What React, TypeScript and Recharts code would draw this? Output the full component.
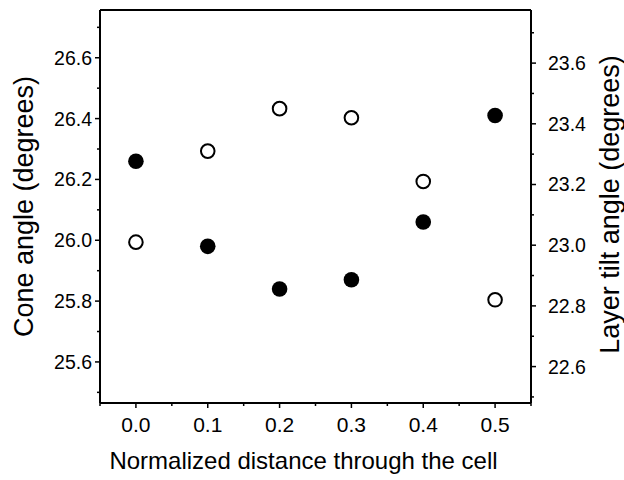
import { ScatterChart, Scatter, XAxis, YAxis, ReferenceLine } from "recharts";

// normalized distance through the cell
const positions = [0, 0.1, 0.2, 0.3, 0.4, 0.5];
// filled circles, left axis
const coneAngle = [26.26, 25.98, 25.84, 25.87, 26.06, 26.41];
// open circles, right axis
const layerTilt = [23.01, 23.31, 23.45, 23.42, 23.21, 22.82];

const xTicks = [-0.05, 0, 0.05, 0.1, 0.15, 0.2, 0.25, 0.3, 0.35, 0.4, 0.45, 0.5, 0.55];
const leftTicks = [25.5, 25.6, 25.7, 25.8, 25.9, 26.0, 26.1, 26.2, 26.3, 26.4, 26.5, 26.6, 26.7];
const rightTicks = [22.5, 22.6, 22.7, 22.8, 22.9, 23.0, 23.1, 23.2, 23.3, 23.4, 23.5, 23.6, 23.7];

const coneData = positions.map((x, i) => ({ x, y: coneAngle[i] }));
const tiltData = positions.map((x, i) => ({ x, y: layerTilt[i] }));

const LEFT_DOMAIN = [25.465, 26.757];
const RIGHT_DOMAIN = [22.48, 23.775];
const X_DOMAIN = [-0.05, 0.55];

const FONT = "Arial, 'Liberation Sans', sans-serif";

const isTenth = (v: number) => Math.abs(v * 10 - Math.round(v * 10)) < 1e-6;
const isEvenTenth = (v: number) => Math.round(v * 10) % 2 === 0;

function XTick(props: any) {
  const { x, y, payload } = props;
  const v = payload.value;
  const major = isTenth(v);
  return (
    <g>
      <line x1={x} x2={x} y1={y} y2={y + (major ? 5 : 3)} stroke="#000" strokeWidth={1.5} />
      {major && (
        <text x={x} y={y + 29} textAnchor="middle" fontSize={21} fontFamily={FONT} fill="#000">
          {v.toFixed(1)}
        </text>
      )}
    </g>
  );
}

function LeftTick(props: any) {
  const { x, y, payload } = props;
  const v = payload.value;
  const major = isEvenTenth(v);
  return (
    <g>
      <line x1={x} x2={x - (major ? 5 : 3)} y1={y} y2={y} stroke="#000" strokeWidth={1.5} />
      {major && (
        <text x={x - 8} y={y + 7} textAnchor="end" fontSize={19.5} fontFamily={FONT} fill="#000">
          {v.toFixed(1)}
        </text>
      )}
    </g>
  );
}

function RightTick(props: any) {
  const { x, y, payload } = props;
  const v = payload.value;
  const major = isEvenTenth(v);
  return (
    <g>
      <line x1={x} x2={x + (major ? 5 : 3)} y1={y} y2={y} stroke="#000" strokeWidth={1.5} />
      {major && (
        <text x={x + 17} y={y + 7} textAnchor="start" fontSize={19.5} fontFamily={FONT} fill="#000">
          {v.toFixed(1)}
        </text>
      )}
    </g>
  );
}

const FilledDot = (props: any) => <circle cx={props.cx} cy={props.cy} r={7.8} fill="#000" />;
const OpenDot = (props: any) => (
  <circle cx={props.cx} cy={props.cy} r={6.8} fill="#fff" stroke="#000" strokeWidth={2} />
);

const leftTitle = (props: any) => {
  const vb = props.viewBox;
  const cx = vb.x + 24;
  const cy = vb.y + vb.height / 2;
  return (
    <text x={cx} y={cy} dy={9} transform={`rotate(-90, ${cx}, ${cy})`} textAnchor="middle" fontSize={27} fontFamily={FONT} fill="#000">
      Cone angle (degrees)
    </text>
  );
};

const rightTitle = (props: any) => {
  const vb = props.viewBox;
  const cx = vb.x + 79;
  const cy = vb.y + vb.height / 2 - 2;
  return (
    <text x={cx} y={cy} dy={9} transform={`rotate(-90, ${cx}, ${cy})`} textAnchor="middle" fontSize={27} fontFamily={FONT} fill="#000">
      Layer tilt angle (degrees)
    </text>
  );
};

const bottomTitle = (props: any) => {
  const vb = props.viewBox;
  return (
    <text x={vb.x + vb.width / 2 - 12} y={vb.y + 66} textAnchor="middle" fontSize={24} fontFamily={FONT} fill="#000">
      Normalized distance through the cell
    </text>
  );
};

export default function App() {
  return (
    <div style={{ position: "absolute", left: 0, top: 0, background: "#fff" }}>
      <ScatterChart width={624} height={480} margin={{ top: 10, right: 0, bottom: 0, left: 0 }}>
        <XAxis
          xAxisId="bottom"
          dataKey="x"
          type="number"
          domain={X_DOMAIN}
          ticks={xTicks}
          interval={0}
          height={77}
          tickSize={0}
          tickMargin={0}
          tickLine={false}
          tick={XTick}
          axisLine={{ stroke: "#000", strokeWidth: 2 }}
          label={bottomTitle}
        />
        <YAxis
          yAxisId="left"
          dataKey="y"
          type="number"
          domain={LEFT_DOMAIN}
          ticks={leftTicks}
          interval={0}
          width={100}
          tickSize={0}
          tickMargin={0}
          tickLine={false}
          tick={LeftTick}
          axisLine={{ stroke: "#000", strokeWidth: 2 }}
          label={leftTitle}
        />
        <YAxis
          yAxisId="right"
          orientation="right"
          dataKey="y"
          type="number"
          domain={RIGHT_DOMAIN}
          ticks={rightTicks}
          interval={0}
          width={93}
          tickSize={0}
          tickMargin={0}
          tickLine={false}
          tick={RightTick}
          axisLine={{ stroke: "#000", strokeWidth: 2 }}
          label={rightTitle}
        />
        {/* closing top frame line */}
        <ReferenceLine xAxisId="bottom" yAxisId="left" y={LEFT_DOMAIN[1]} stroke="#000" strokeWidth={2} />
        <Scatter xAxisId="bottom" yAxisId="left" data={coneData} shape={FilledDot} isAnimationActive={false} />
        <Scatter xAxisId="bottom" yAxisId="right" data={tiltData} shape={OpenDot} isAnimationActive={false} />
      </ScatterChart>
    </div>
  );
}
